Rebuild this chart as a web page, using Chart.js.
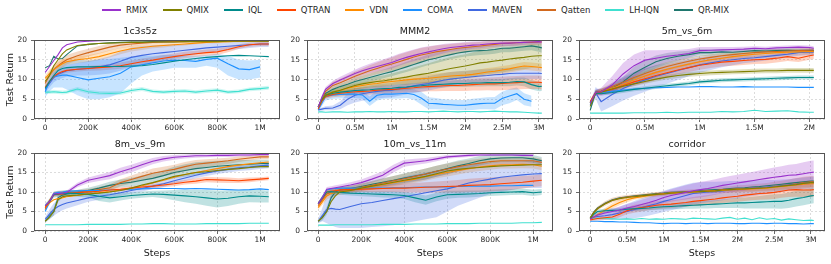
<!DOCTYPE html>
<html><head><meta charset="utf-8">
<script src="https://cdn.jsdelivr.net/npm/chart.js@4"></script>
<style>
html,body{margin:0;padding:0;background:#fff;}
#root{position:relative;width:831px;height:264px;overflow:hidden;font-family:'DejaVu Sans',sans-serif;}
#legend{position:absolute;left:0;top:3px;width:831px;height:13px;display:flex;justify-content:center;align-items:center;font-size:8.5px;color:#262626;white-space:nowrap;}
.li{display:flex;align-items:center;margin:0 7.5px;}
.sw{width:19px;height:2px;margin-right:5px;}
canvas{position:absolute;}
</style></head><body><div id="root"><div id="legend"></div></div>
<script>
// ---------- series ----------
const seriesNames = ['RMIX','QMIX','IQL','QTRAN','VDN','COMA','MAVEN','Qatten','LH-IQN','QR-MIX'];
const seriesColors = ['#9932CC','#808000','#008B8B','#FF4500','#FF8C00','#1E90FF','#4169E1','#D2691E','#40E0D0','#1F776E'];
const panelTitles = ['1c3s5z','MMM2','5m_vs_6m','8m_vs_9m','10m_vs_11m','corridor'];

// ---------- steps & ticks ----------
const steps1M = [0,20000,40000,60000,80000,100000,150000,200000,250000,300000,350000,400000,450000,500000,550000,600000,650000,700000,750000,800000,850000,900000,950000,1000000,1040000];
const steps3M = [0,50000,100000,200000,300000,400000,500000,600000,700000,800000,900000,1000000,1100000,1200000,1300000,1400000,1500000,1600000,1700000,1800000,1900000,2000000,2100000,2200000,2300000,2400000,2500000,2600000,2700000,2800000,2900000,3000000,3040000];
const steps2M = [0,50000,100000,200000,300000,400000,500000,600000,700000,800000,900000,1000000,1100000,1200000,1300000,1400000,1500000,1600000,1700000,1800000,1900000,2000000,2040000];
const xRange1M = [-52000,1092000], xRange3M = [-152000,3192000], xRange2M = [-102000,2142000];
const xTicks1M = [0,200000,400000,600000,800000,1000000];
const xLabels1M = ['0','200K','400K','600K','800K','1M'];
const xTicks3M = [0,500000,1000000,1500000,2000000,2500000,3000000];
const xLabels3M = ['0','0.5M','1M','1.5M','2M','2.5M','3M'];
const xTicks2M = [0,500000,1000000,1500000,2000000];
const xLabels2M = ['0','0.5M','1M','1.5M','2M'];
const yTicks = [0,5,10,15,20];

// ---------- 1c3s5z ----------
const c1_RMIX = [11.8,13.3,14.8,16.3,18,18.8,19.5,19.7,19.8,19.9,19.9,19.9,19.9,19.9,19.9,19.9,19.9,19.9,19.9,19.9,19.9,19.9,19.9,19.9,19.9];
const c1_QMIX = [9.5,11,13.5,15,16.5,17.5,18.6,18.9,19.1,19.2,19.3,19.4,19.4,19.5,19.5,19.5,19.6,19.6,19.6,19.6,19.7,19.7,19.7,19.7,19.7];
const c1_IQL = [7.8,9.5,11,12.3,12.8,13,13.2,13.2,13.3,13.3,13.3,13.4,13.5,13.8,14.2,14.6,15,15.3,15.6,15.8,16,16.1,16,15.9,15.8];
const c1_QTRAN = [8,9.5,10.8,11.5,12,12.3,12.6,12.8,13,13.2,13.5,14,14.5,14.9,15.4,15.8,16.2,16.5,16.8,17,17.6,18.3,18.8,19,19];
const c1_VDN = [10.3,11.5,12.5,13.3,14,14.5,15,15.3,15.8,16.5,17.2,17.8,18.1,18.4,18.6,18.8,19,19.2,19.4,19.5,19.6,19.7,19.7,19.8,19.8];
const c1_COMA = [6.9,9.5,10.7,10.9,11.1,11.1,10.5,9.9,10.3,10.7,11.6,13.2,13.7,14.2,14.7,14.9,14.8,14.6,15.1,15.4,14,12.7,12.5,13.2,null];
const c1_MAVEN = [7.5,9,10.5,11.3,11.8,12.2,12.6,12.8,13.2,13.7,14.6,15.6,16.1,16.5,16.8,17.1,17.4,17.7,18,18.2,18.4,18.6,18.8,19,19];
const c1_Qatten = [9,11,12.5,13.5,14.3,15,16,16.8,17.5,18.2,18.7,19,19.2,19.4,19.5,19.6,19.6,19.7,19.7,19.7,19.8,19.8,19.8,19.8,19.8];
const c1_LHIQN = [6.8,6.8,6.9,6.8,6.7,6.8,7.6,6.9,6.6,6.5,6.6,7.2,7.6,7,6.8,7,7.1,6.8,7.1,7.3,6.8,7,7.5,7.7,7.9];
const c1_QRMIX = [13,13.5,15.9,15.2,15.3,16.3,18.5,18.9,19.1,19.3,19.4,19.5,19.5,19.6,19.6,19.6,19.7,19.7,19.7,19.7,19.8,19.8,19.8,19.8,19.8];
const c1_COMA_lo = [5.5,7,8,8,8,7.5,6,5,5,5.5,6.5,9,11,12,12.5,13,13,13,13.5,13,11,10,10,10.5,null];
const c1_COMA_hi = [8,11.5,13,13.5,14,14.5,15,14.8,15,15.2,15.5,15.8,16,16,16.2,16.2,16,16,16.2,16.5,16,15,14.8,15,null];
const c1_MAVEN_sd = [0.8,1,1.2,1.3,1.4,1.5,1.6,1.8,2,2.2,2.4,2.5,2.4,2.2,2,1.8,1.6,1.4,1.2,1.1,1,0.9,0.8,0.8,0.8];
const c1_VDN_sd = [0.8,1,1,1,1,0.9,0.9,0.9,0.9,0.9,0.8,0.7,0.6,0.5,0.5,0.4,0.4,0.3,0.3,0.3,0.3,0.3,0.3,0.3,0.3];
const c1_Qatten_sd = [0.8,1,1.2,1.2,1.2,1.2,1.1,1,1,0.9,0.8,0.7,0.6,0.5,0.4,0.4,0.3,0.3,0.3,0.3,0.3,0.3,0.3,0.3,0.3];
const c1_QTRAN_sd = [0.5,0.6,0.6,0.6,0.6,0.6,0.6,0.6,0.7,0.7,0.8,0.8,0.8,0.8,0.8,0.8,0.8,0.8,0.8,0.8,0.7,0.6,0.5,0.5,0.5];
const c1_LHIQN_sd = [0.5,0.5,0.5,0.5,0.5,0.5,0.5,0.5,0.5,0.5,0.5,0.5,0.5,0.5,0.5,0.5,0.5,0.5,0.5,0.5,0.5,0.5,0.5,0.5,0.5];

// ---------- MMM2 ----------
const c2_RMIX = [3,5.5,7.5,9,9.9,10.7,11.5,12.2,12.8,13.3,13.8,14.3,15,15.6,16.1,16.6,17,17.4,17.8,18.1,18.3,18.5,18.7,18.8,19,19.1,19.2,19.2,19.3,19.4,19.5,19.6,19.5];
const c2_QMIX = [3,4.8,6,6.8,7.3,7.9,8.5,8.9,9.2,9.5,9.7,10,10.3,10.6,11,11.3,11.6,12,12.4,12.8,13.1,13.4,13.8,14.2,14.4,14.7,14.9,15.2,15.4,15.6,15.9,16,16];
const c2_IQL = [3,5,6,6.5,6.8,7,7.2,7.3,7.4,7.6,7.7,7.8,8,8.1,8.3,8.4,8.6,8.7,8.8,8.9,9,9,9.1,9.1,9.2,9.2,9.2,9.3,9.5,9.4,8.7,8.2,8.3];
const c2_QTRAN = [2.5,4.5,5.7,6.2,6.5,6.7,6.9,7,7.1,7.3,7.4,7.5,7.6,7.8,7.9,8.1,8.2,8.3,8.4,8.5,8.5,8.6,8.7,8.8,8.9,8.9,9,9.1,9.2,9.3,9.3,9.3,9.2];
const c2_VDN = [3,5,6,6.8,7.3,7.8,8.2,8.5,8.8,9,9.3,9.5,9.7,9.9,10.1,10.2,10.3,10.5,10.7,10.9,11,11.1,11.3,11.6,11.9,12.1,12.4,12.7,13.1,13.4,13.3,13.1,13];
const c2_COMA = [2.3,4,5.7,6.1,6.2,6.3,6.3,6.1,4.5,6,6.3,6.3,6.4,6.5,6.2,5.3,4,3.9,3.7,3.6,3.5,3.5,3.7,3.9,4,4,5.2,5.8,6.4,5,4.5,null,null];
const c2_MAVEN = [2.3,2.5,2.7,2.8,3.5,5,6,6.4,6.7,7,7.2,7.3,7.7,8,8.4,8.7,9,9.4,9.8,10.1,10.3,10.5,10.7,10.9,11,11.2,11.3,11.5,11.6,11.6,11.6,11.6,11.5];
const c2_Qatten = [3,5,7,8.5,9.2,10,10.8,11.5,12.2,12.8,13.4,13.9,14.5,15.1,15.7,16.2,16.6,17,17.3,17.6,17.9,18.1,18.3,18.5,18.7,18.9,19.1,19.2,19.3,19.4,19.4,19.5,19.5];
const c2_LHIQN = [1.8,1.8,1.7,1.8,1.8,1.7,1.8,1.8,1.9,1.8,1.8,1.9,1.8,1.8,1.9,1.9,1.8,1.9,2,1.9,1.8,1.9,1.9,1.8,1.9,2,1.9,1.8,1.8,1.7,1.6,1.5,1.5];
const c2_QRMIX = [3,5,6.5,7.5,8.2,8.8,9.5,10,10.5,11,11.5,12,12.6,13.2,13.8,14.4,15,15.4,15.9,16.3,16.7,17,17.2,17.3,17.4,17.6,17.9,17.9,18.1,18.3,18.5,18.2,18];
const c2_RMIX_sd = [0.3,0.5,0.6,0.7,0.8,0.9,1,1.1,1.2,1.3,1.4,1.5,1.5,1.5,1.5,1.5,1.4,1.3,1.2,1.1,1,1,0.9,0.9,0.8,0.8,0.7,0.7,0.7,0.6,0.6,0.6,0.6];
const c2_Qatten_sd = [0.3,0.5,0.7,0.9,1,1.1,1.2,1.3,1.4,1.5,1.6,1.7,1.8,1.8,1.8,1.8,1.7,1.6,1.5,1.4,1.3,1.2,1.1,1,1,0.9,0.9,0.8,0.8,0.8,0.7,0.7,0.7];
const c2_QRMIX_sd = [0.3,0.5,0.6,0.7,0.8,0.9,1,1,1,1.1,1.1,1.2,1.2,1.3,1.3,1.3,1.3,1.3,1.3,1.2,1.2,1.2,1.2,1.1,1.1,1.1,1,1,1,1,1.1,1.2,1.2];
const c2_QMIX_sd = [0.3,0.5,0.6,0.7,0.8,0.9,1,1.1,1.2,1.3,1.4,1.5,1.7,1.9,2.1,2.3,2.5,2.7,2.8,2.9,3,3,3.1,3.1,3.1,3.1,3.1,3.1,3,3,3,2.9,2.9];
const c2_VDN_sd = [0.3,0.5,0.6,0.7,0.7,0.8,0.8,0.8,0.8,0.9,0.9,0.9,0.9,1,1,1,1,1,1,1,1,1,1,1,1,1,1,1,1,1,1,1,1];
const c2_MAVEN_sd = [0.3,0.4,0.5,0.6,1,1.5,1.8,1.8,1.8,1.8,1.8,1.8,1.8,1.8,1.8,1.8,1.8,1.8,1.8,1.8,1.8,1.7,1.7,1.7,1.6,1.6,1.6,1.5,1.5,1.5,1.5,1.5,1.5];
const c2_QTRAN_sd = [0.3,0.5,0.6,0.7,0.8,0.8,0.9,0.9,0.9,1,1,1,1,1.1,1.1,1.2,1.2,1.3,1.3,1.4,1.4,1.5,1.5,1.6,1.6,1.7,1.7,1.7,1.7,1.7,1.7,1.7,1.7];
const c2_IQL_sd = [0.3,0.5,0.6,0.7,0.7,0.7,0.7,0.7,0.8,0.8,0.8,0.8,0.8,0.8,0.8,0.8,0.8,0.8,0.8,0.8,0.9,0.9,0.9,0.9,0.9,0.9,0.9,1,1,1.1,1.2,1.2,1.2];
const c2_COMA_sd = [0.3,0.8,1,1,1,1,1,1,1.2,1.3,1.2,1.2,1.2,1.2,1.3,1.6,1.5,1.4,1.3,1.3,1.3,1.3,1.4,1.4,1.5,1.6,1.7,1.8,1.6,1.5,1.4,null,null];

// ---------- 5m_vs_6m ----------
const c3_RMIX = [4,6.7,6.9,8.6,11.4,13.5,14.9,15.4,15.9,16.2,16.6,17.3,17.4,17.5,17.6,17.7,17.9,17.8,18,18.1,18.2,18.1,17.9];
const c3_QMIX = [3.2,6.6,6.8,7.6,8.3,8.9,9.5,10.1,10.6,11,11.3,11.5,11.7,11.8,11.9,12,12.1,12.2,12.2,12.3,12.3,12.3,12.3];
const c3_IQL = [4,6.5,6.4,6.7,7.1,7.5,7.8,8.1,8.4,8.7,9,9.4,9.6,9.8,9.9,10,10.1,10.2,10.3,10.4,10.5,10.5,10.5];
const c3_QTRAN = [4.4,6.7,6.9,7.5,8.4,9.4,10.2,11,11.7,12.4,13,13.6,14,14.4,14.6,14.8,15,15.1,15.4,15.8,15.4,16,16.2];
const c3_VDN = [4.2,6.6,6.9,7.8,8.8,9.9,10.9,11.8,12.6,13.3,13.9,14.5,15,15.4,15.8,16.1,16.4,16.6,16.8,16.9,17,17.1,17.1];
const c3_COMA = [4.1,6.5,6.7,7,7.3,7.6,7.8,7.9,8,8.1,8.1,8.2,8.2,8.1,8.1,8.2,8.1,8.1,8.1,8.1,8,8,8];
const c3_MAVEN = [3.5,6.6,4.4,6.2,7.7,8.9,9.9,10.8,11.5,12.3,13,13.7,14.2,14.7,15,15.3,15.5,15.8,16.1,16.4,16.8,17,17];
const c3_Qatten = [4,6.6,7,8.2,9.3,10.5,11.5,12.5,13.3,14,14.6,15.2,15.6,16,16.3,16.6,16.8,17,17.1,17.2,17.3,17.4,17.4];
const c3_LHIQN = [1.5,1.5,1.5,1.5,1.5,1.6,1.6,1.6,1.7,1.6,1.7,1.7,1.7,1.9,1.8,1.9,2.2,1.9,2,2.1,1.8,1.7,1.7];
const c3_QRMIX = [2.2,6.8,7,7.7,9.4,11.6,13.1,14.5,15.3,15.9,16.3,16.8,16.8,17,16.9,17.1,17.3,17.2,17.3,17.4,17.3,17.3,17.3];
const c3_RMIX_sd = [0.5,0.8,1,2.2,2.8,2.8,2.5,2,1.6,1.3,1.1,0.9,0.8,0.7,0.6,0.6,0.5,0.5,0.5,0.5,0.5,0.5,0.5];
const c3_QRMIX_sd = [0.5,0.6,0.7,0.9,1.3,1.6,1.7,1.6,1.4,1.2,1,0.9,0.8,0.7,0.6,0.6,0.5,0.5,0.5,0.5,0.5,0.5,0.5];
const c3_MAVEN_sd = [0.8,1.5,2.5,3,3,3,3,2.8,2.6,2.4,2.2,2,1.8,1.6,1.4,1.2,1.1,1,0.9,0.8,0.8,0.8,0.8];
const c3_QTRAN_sd = [0.5,0.6,0.7,0.8,0.9,1,1.1,1.1,1.1,1.1,1.1,1.1,1.1,1.1,1.1,1.1,1.1,1.1,1.1,1.1,1,1,1];
const c3_VDN_sd = [0.5,0.6,0.7,0.9,1,1.1,1.2,1.2,1.2,1.1,1,0.9,0.9,0.8,0.8,0.7,0.7,0.7,0.7,0.7,0.7,0.7,0.7];
const c3_Qatten_sd = [0.5,0.6,0.7,0.9,1,1.1,1.2,1.2,1.1,1,0.9,0.8,0.8,0.7,0.7,0.7,0.6,0.6,0.6,0.6,0.6,0.6,0.6];
const c3_QMIX_sd = [0.3,0.4,0.5,0.5,0.5,0.6,0.6,0.6,0.6,0.6,0.6,0.6,0.6,0.6,0.6,0.6,0.6,0.6,0.6,0.6,0.6,0.6,0.6];
const c3_IQL_sd = [0.3,0.4,0.4,0.5,0.5,0.5,0.5,0.5,0.5,0.5,0.5,0.5,0.5,0.5,0.5,0.5,0.5,0.5,0.5,0.5,0.5,0.5,0.5];

// ---------- 8m_vs_9m ----------
const c4_RMIX = [6.5,7.5,9.5,9.6,9.7,9.9,11.8,13,13.6,14.2,15.2,16,17,17.9,18.5,18.9,19.1,19.3,19.3,19.4,19.4,19.5,19.5,19.6,19.6];
const c4_QMIX = [2.5,3.5,5,8,8.8,9,9.2,9.5,9.7,10,10.4,11,11.8,12.4,13.2,14,14.5,15,15.2,15.5,15.8,16,16.3,16.5,16.5];
const c4_IQL = [6.5,7.5,9.3,9.5,9.6,9.7,9.6,9.4,8.9,8.5,8.8,9.1,9.3,9.5,9.4,9.2,9,8.8,8.5,8.2,8.4,8.8,9,8.9,8.8];
const c4_QTRAN = [6,7.5,9.3,9.4,9.5,9.6,9.8,10,10.2,10.5,10.7,11,11.3,11.5,11.8,12.1,12.5,12.8,13.2,13.1,13,12.9,13.1,13.3,13.5];
const c4_VDN = [6,7.2,8,8.3,8.5,8.8,9.1,9.5,9.8,10.1,10.5,11,11.6,12.3,13,13.8,14.5,15,15.5,16,16.5,16.9,17.2,17.5,17.7];
const c4_COMA = [5,7.3,9.6,9.9,10,10.2,10.3,10.4,10.4,10.5,10.6,10.7,10.8,10.9,10.9,10.9,10.8,10.9,10.8,10.7,10.6,10.5,10.6,10.8,10.6];
const c4_MAVEN = [3,4.3,5.5,6.3,6.8,7.2,7.8,8.5,8.9,9.3,9.8,10.4,10.9,11.5,12.1,12.9,13.6,14.3,14.9,15.4,15.8,16.2,16.4,16.7,16.9];
const c4_Qatten = [5.5,7.8,9.5,9.7,9.8,9.9,10,10.2,10.6,11.1,12.4,13.2,14,14.8,15.3,15.8,16.5,17.1,17.4,17.7,18,18.4,18.7,19,19];
const c4_LHIQN = [1.6,1.6,1.6,1.6,1.6,1.6,1.6,1.7,1.7,1.7,1.7,1.8,1.8,1.9,1.9,1.8,1.8,1.8,1.9,1.9,1.9,1.9,2,2,2];
const c4_QRMIX = [2.5,3.8,5,8.5,9.2,9.5,9.9,10.4,11,11.7,12.2,12.5,13,13.5,14.2,15,15.5,16,16.3,16.6,16.8,17,17.1,17.3,17.3];
const c4_RMIX_sd = [0.4,0.5,0.5,0.5,0.5,0.5,0.6,0.7,0.8,0.9,1,1,0.9,0.8,0.7,0.6,0.5,0.5,0.4,0.4,0.4,0.4,0.4,0.4,0.4];
const c4_IQL_sd = [0.5,0.8,0.8,0.8,0.8,0.8,0.8,0.8,1.2,1.2,1,0.8,0.8,0.8,1,1.3,1.6,1.8,2,2.2,2,1.8,1.6,1.6,1.5];
const c4_QRMIX_sd = [0.4,0.8,1,1,0.8,0.7,0.7,0.7,0.8,0.9,1,1.1,1.2,1.3,1.4,1.5,1.6,1.6,1.5,1.4,1.3,1.2,1.1,1,1];
const c4_MAVEN_sd = [0.6,1.2,1.6,1.6,1.5,1.4,1.2,1,0.9,0.8,0.8,0.8,0.8,0.8,0.8,0.8,0.8,0.8,0.8,0.8,0.8,0.8,0.8,0.8,0.8];
const c4_QTRAN_sd = [0.4,0.5,0.5,0.5,0.5,0.5,0.5,0.5,0.5,0.5,0.5,0.5,0.5,0.5,0.6,0.6,0.6,0.7,0.7,0.7,0.7,0.6,0.6,0.5,0.5];
const c4_Qatten_sd = [0.4,0.5,0.5,0.5,0.5,0.5,0.5,0.6,0.7,0.8,0.9,1,1.1,1.2,1.2,1.2,1.2,1.1,1,0.9,0.8,0.7,0.6,0.6,0.6];

// ---------- 10m_vs_11m ----------
const c5_RMIX = [7,8.6,10.7,10.9,11.1,11.3,11.8,12.4,13.3,14.3,16,17.4,17.7,18,18.5,19,19.2,19.4,19.5,19.5,19.5,19.5,19.4,19.4,null];
const c5_QMIX = [2.5,3.5,5,7.5,9,10,10.4,11,11.5,12,12.5,13,13.5,14,14.7,15.4,15.8,16.1,16.3,16.5,16.7,16.8,16.9,17,17];
const c5_IQL = [7,8.5,10,10.1,10,9.9,9.7,9.6,9.5,9.4,9.3,9.1,8.5,7.9,8.7,9.3,9.4,9.5,9.6,9.8,9.9,10,10.1,9.8,10];
const c5_QTRAN = [7,8.5,10,10.2,10.3,10.5,10.6,10.7,10.8,10.9,11,11,11.1,11.2,11.3,11.4,11.5,11.7,11.8,11.9,12.1,12.3,12.5,12.8,13];
const c5_VDN = [6,7.5,9,9.6,9.8,10,10.4,10.9,11.4,11.9,12.4,12.8,13.3,13.9,14.5,15,15.5,16,16.4,16.7,17,17,17.1,17,16.6];
const c5_COMA = [7,8.8,10.5,10.8,10.9,11,11,11,11,11,11.1,11.1,11.2,11.3,11.3,11.3,11.4,11.5,11.5,11.5,11.6,11.6,11.7,11.7,null];
const c5_MAVEN = [2.5,4,5.5,5.8,5.6,5.5,6.3,7,7.3,7.8,8.3,8.8,9.3,9.8,10.3,10.8,11.5,12.3,12.8,13.3,13.8,14.1,14.4,14.6,14.7];
const c5_Qatten = [6.5,8,9.5,10,10.3,10.5,10.8,11.2,11.7,12.3,12.9,13.4,14,14.6,15.3,15.9,16.5,17,17.4,17.8,18,18,18,18,17.6];
const c5_LHIQN = [1.5,1.5,1.5,1.5,1.6,1.6,1.6,1.6,1.6,1.7,1.7,1.7,1.8,1.8,1.8,1.9,1.9,1.9,2,2,2,2,2.1,2.1,2.2];
const c5_QRMIX = [2.5,3.5,5.2,8.5,10,10.5,10.9,11.4,12,12.5,13,13.6,14.1,14.6,15.3,16,16.7,17.3,18,18.5,18.7,18.8,18.8,18.5,18];
const c5_MAVEN_lo = [2,2.5,2,1.5,1,0.8,0.8,0.8,1,1.2,1.5,2,2.5,3,3.5,5,6.5,7.5,8.5,9.5,10,10.5,11,11,11];
const c5_MAVEN_hi = [3,6,9.5,10.5,10.5,10.5,11,11.5,12,12.5,13,14,14.5,15,15.5,16,16.5,17,17.3,17.5,17.8,18,18,18.2,18.3];
const c5_QRMIX_sd = [0.4,0.8,1,1,0.8,0.7,0.7,0.8,0.9,1,1.1,1.2,1.3,1.4,1.4,1.4,1.4,1.3,1.2,1.1,1,1,1,1,1];
const c5_Qatten_sd = [0.5,0.6,0.7,0.7,0.7,0.7,0.8,0.9,1,1.1,1.2,1.3,1.4,1.4,1.4,1.4,1.3,1.2,1.1,1,0.9,0.9,0.9,0.9,0.9];
const c5_QTRAN_sd = [0.5,0.6,0.6,0.6,0.6,0.6,0.6,0.7,0.8,0.9,1,1.1,1.2,1.3,1.4,1.5,1.6,1.7,1.8,1.8,1.8,1.7,1.6,1.5,1.5];
const c5_IQL_sd = [0.5,0.6,0.6,0.6,0.6,0.6,0.6,0.7,0.7,0.8,0.8,0.9,1.1,1.2,1.1,1,0.9,0.9,0.8,0.8,0.8,0.8,0.8,0.8,0.8];
const c5_RMIX_sd = [0.4,0.5,0.6,0.6,0.6,0.6,0.7,0.8,0.9,1,1,0.9,0.8,0.7,0.6,0.5,0.4,0.4,0.3,0.3,0.3,0.3,0.3,0.3,null];
const c5_VDN_sd = [0.6,0.8,1,0.9,0.8,0.7,0.7,0.7,0.8,0.8,0.9,0.9,1,1,1,1,1,1,1,1,1,1,1,1,1];

// ---------- corridor ----------
const c6_RMIX = [3,3.6,4.1,4.6,5,5.4,5.9,6.3,6.8,7.3,7.9,8.6,9.1,9.5,9.9,10.3,10.6,10.9,11.3,11.7,12,12.3,12.6,12.9,13.2,13.5,13.8,14,14.3,14.4,14.7,15,15.1];
const c6_QMIX = [3.2,4.7,5.7,6.9,7.8,8.3,8.6,8.8,9,9.2,9.4,9.5,9.7,9.8,9.9,10,10.1,10.2,10.3,10.5,10.6,10.7,10.8,10.9,11,11.1,11.3,11.5,11.7,11.9,12.2,12.4,12.4];
const c6_IQL = [3.2,4.3,5,5.2,5.3,5.4,5.6,5.7,5.8,5.9,6.1,6.2,6.3,6.4,6.5,6.6,6.7,6.8,6.9,7,7.1,7.2,7.2,7.3,7.4,7.5,7.6,7.6,7.9,8.3,8.6,9,9.1];
const c6_QTRAN = [2.8,3,3.2,3.4,3.6,4.3,5.2,5.7,6,6.3,6.6,6.8,6.9,7.1,7.3,7.6,7.8,8,8.2,8.5,8.7,8.9,9.2,9.4,9.6,9.7,9.9,10.2,10.5,10.6,10.5,10.5,10.6];
const c6_VDN = [3,3.6,4.2,5.3,6.4,7.3,8,8.5,8.8,9.1,9.3,9.5,9.7,9.8,9.9,10,10.1,10.2,10.3,10.4,10.5,10.6,10.7,10.8,10.9,11,11.2,11.4,11.6,11.8,12,12.1,12.1];
const c6_COMA = [2.5,2.5,2.5,2.4,2.4,2.3,2.3,2.2,2.1,2.1,2,1.9,2,2,1.9,2,2,1.9,2,2,2,1.9,1.9,2,2,1.9,2,2,1.9,1.9,1.8,1.9,1.9];
const c6_MAVEN = [3.5,3.6,3.7,3.9,4.2,4.6,5,5.5,6,6.5,7,7.6,8.1,8.6,9.1,9.6,9.8,10,10.1,10.3,10.5,10.6,10.8,11,11.1,11.3,11.4,11.6,11.8,12,12.2,12.4,12.4];
const c6_Qatten = [3.3,4.8,5.8,7,7.9,8.4,8.7,8.9,9.1,9.3,9.5,9.6,9.8,9.9,10,10.1,10.2,10.3,10.4,10.6,10.7,10.8,10.9,11,11.1,11.2,11.4,11.6,11.8,12.1,12.4,12.6,12.6];
const c6_LHIQN = [3.2,3.2,3.3,3.2,3.1,3,3.1,3,3.2,3,3.1,3,3.2,3.1,3,3.3,3.2,3.1,3,3.3,3.5,3,3.3,2.9,3.4,3,3.2,2.8,3.1,2.9,2.7,2.8,2.7];
const c6_QRMIX = [3.4,4.9,5.9,7.1,8,8.5,8.8,9,9.2,9.4,9.6,9.7,9.9,10,10.1,10.2,10.4,10.5,10.6,10.7,10.9,11,11.1,11.3,11.4,11.6,11.8,12,12.2,12.4,12.6,12.8,12.8];
const c6_RMIX_sd = [0.3,0.5,0.6,0.7,0.8,0.9,1,1.1,1.2,1.3,1.4,1.5,1.6,1.7,1.8,1.9,2,2,2,2,2.1,2.1,2.2,2.2,2.3,2.4,2.5,2.6,2.7,2.8,2.9,3,3];
const c6_MAVEN_sd = [0.3,0.5,0.8,1,1.3,1.6,1.9,2.2,2.4,2.5,2.6,2.7,2.8,2.8,2.8,2.8,2.7,2.6,2.5,2.4,2.3,2.2,2.1,2,1.9,1.8,1.7,1.6,1.5,1.5,1.5,1.5,1.5];
const c6_QTRAN_sd = [0.3,0.4,0.5,0.6,0.7,0.8,0.9,1,1,1,1,1,1,1,1.1,1.1,1.2,1.2,1.3,1.3,1.4,1.4,1.5,1.5,1.6,1.6,1.7,1.7,1.8,1.8,1.8,1.8,1.8];
const c6_IQL_sd = [0.3,0.4,0.5,0.5,0.5,0.5,0.5,0.6,0.6,0.6,0.7,0.7,0.7,0.8,0.8,0.9,0.9,1,1,1.1,1.2,1.3,1.4,1.5,1.6,1.7,1.8,1.9,2,2,2,2,2];
const c6_VDN_sd = [0.3,0.4,0.5,0.6,0.7,0.7,0.6,0.5,0.5,0.5,0.5,0.5,0.5,0.5,0.5,0.5,0.5,0.5,0.5,0.5,0.5,0.5,0.5,0.6,0.6,0.6,0.7,0.7,0.8,0.8,0.8,0.8,0.8];
const c6_Qatten_sd = [0.3,0.4,0.5,0.6,0.6,0.6,0.5,0.5,0.5,0.5,0.5,0.5,0.5,0.5,0.6,0.6,0.6,0.7,0.7,0.8,0.8,0.9,0.9,1,1,1.1,1.2,1.3,1.4,1.5,1.5,1.5,1.5];

// ---------- panel table (built from the arrays above) ----------
const panels = [
  {steps:steps1M, xr:xRange1M, xt:xTicks1M, xl:xLabels1M,
   series:[c1_RMIX,c1_QMIX,c1_IQL,c1_QTRAN,c1_VDN,c1_COMA,c1_MAVEN,c1_Qatten,c1_LHIQN,c1_QRMIX],
   bands:[['COMA',c1_COMA_lo,c1_COMA_hi],['MAVEN',c1_MAVEN_sd],['VDN',c1_VDN_sd],['Qatten',c1_Qatten_sd],['QTRAN',c1_QTRAN_sd],['LH-IQN',c1_LHIQN_sd]]},
  {steps:steps3M, xr:xRange3M, xt:xTicks3M, xl:xLabels3M,
   series:[c2_RMIX,c2_QMIX,c2_IQL,c2_QTRAN,c2_VDN,c2_COMA,c2_MAVEN,c2_Qatten,c2_LHIQN,c2_QRMIX],
   bands:[['RMIX',c2_RMIX_sd],['Qatten',c2_Qatten_sd],['QR-MIX',c2_QRMIX_sd],['QMIX',c2_QMIX_sd],['VDN',c2_VDN_sd],['MAVEN',c2_MAVEN_sd],['QTRAN',c2_QTRAN_sd],['IQL',c2_IQL_sd],['COMA',c2_COMA_sd]]},
  {steps:steps2M, xr:xRange2M, xt:xTicks2M, xl:xLabels2M,
   series:[c3_RMIX,c3_QMIX,c3_IQL,c3_QTRAN,c3_VDN,c3_COMA,c3_MAVEN,c3_Qatten,c3_LHIQN,c3_QRMIX],
   bands:[['RMIX',c3_RMIX_sd],['QR-MIX',c3_QRMIX_sd],['MAVEN',c3_MAVEN_sd],['QTRAN',c3_QTRAN_sd],['VDN',c3_VDN_sd],['Qatten',c3_Qatten_sd],['QMIX',c3_QMIX_sd],['IQL',c3_IQL_sd]]},
  {steps:steps1M, xr:xRange1M, xt:xTicks1M, xl:xLabels1M,
   series:[c4_RMIX,c4_QMIX,c4_IQL,c4_QTRAN,c4_VDN,c4_COMA,c4_MAVEN,c4_Qatten,c4_LHIQN,c4_QRMIX],
   bands:[['RMIX',c4_RMIX_sd],['IQL',c4_IQL_sd],['QR-MIX',c4_QRMIX_sd],['MAVEN',c4_MAVEN_sd],['QTRAN',c4_QTRAN_sd],['Qatten',c4_Qatten_sd]]},
  {steps:steps1M, xr:xRange1M, xt:xTicks1M, xl:xLabels1M,
   series:[c5_RMIX,c5_QMIX,c5_IQL,c5_QTRAN,c5_VDN,c5_COMA,c5_MAVEN,c5_Qatten,c5_LHIQN,c5_QRMIX],
   bands:[['MAVEN',c5_MAVEN_lo,c5_MAVEN_hi],['QR-MIX',c5_QRMIX_sd],['Qatten',c5_Qatten_sd],['QTRAN',c5_QTRAN_sd],['IQL',c5_IQL_sd],['RMIX',c5_RMIX_sd],['VDN',c5_VDN_sd]]},
  {steps:steps3M, xr:xRange3M, xt:xTicks3M, xl:xLabels3M,
   series:[c6_RMIX,c6_QMIX,c6_IQL,c6_QTRAN,c6_VDN,c6_COMA,c6_MAVEN,c6_Qatten,c6_LHIQN,c6_QRMIX],
   bands:[['RMIX',c6_RMIX_sd],['MAVEN',c6_MAVEN_sd],['QTRAN',c6_QTRAN_sd],['IQL',c6_IQL_sd],['VDN',c6_VDN_sd],['Qatten',c6_Qatten_sd]]}
];

// ---------- layout ----------
const colPlotLeft = [34,307,579], colAxisW = [34,30,30];
const rowPlotTop = [40,153], rowPlotH = [79,78], rowAxisH = [16,30];
const PLOT_W = 246, TITLE_H = 14, PAD_R = 6;

Chart.defaults.font.family = "'DejaVu Sans', sans-serif";
Chart.defaults.color = '#262626';

// legend
const lg = document.getElementById('legend');
seriesNames.forEach((n,i)=>{
  const it = document.createElement('div'); it.className='li';
  const sw = document.createElement('span'); sw.className='sw'; sw.style.background = seriesColors[i];
  const tx = document.createElement('span'); tx.textContent = n;
  it.appendChild(sw); it.appendChild(tx); lg.appendChild(it);
});

const framePlugin = {id:'frame', afterDatasetsDraw(chart){
  const {ctx, chartArea:a} = chart;
  ctx.save(); ctx.strokeStyle='#555'; ctx.lineWidth=1;
  ctx.strokeRect(Math.round(a.left)+0.5, Math.round(a.top)+0.5, Math.round(a.right-a.left)-1, Math.round(a.bottom-a.top)-1);
  ctx.restore();
}};

function toPts(steps, arr){ return steps.map((x,i)=>({x:x, y:(arr[i]==null?null:arr[i])})); }

panels.forEach((p,pi)=>{
  const col = pi%3, row = Math.floor(pi/3);
  const yW = colAxisW[col], xH = rowAxisH[row];
  const cv = document.createElement('canvas');
  const W = yW + PLOT_W + PAD_R, H = TITLE_H + rowPlotH[row] + xH;
  cv.width = W; cv.height = H;
  cv.style.left = (colPlotLeft[col]-yW)+'px';
  cv.style.top = (rowPlotTop[row]-TITLE_H)+'px';
  cv.style.width = W+'px'; cv.style.height = H+'px';
  document.getElementById('root').appendChild(cv);

  const datasets = [];
  p.series.forEach((arr,si)=>{
    datasets.push({label:seriesNames[si], data:toPts(p.steps,arr), borderColor:seriesColors[si],
      borderWidth:1.1, pointRadius:0, fill:false, tension:0, spanGaps:false});
  });
  p.bands.forEach(b=>{
    const si = seriesNames.indexOf(b[0]); const mean = p.series[si];
    let lo, hi;
    if (b.length===3){ lo=b[1]; hi=b[2]; }
    else { const sd=b[1];
      lo = mean.map((m,i)=> (m==null||sd[i]==null)?null:m-sd[i]);
      hi = mean.map((m,i)=> (m==null||sd[i]==null)?null:m+sd[i]); }
    datasets.push({label:b[0]+' hi', data:toPts(p.steps,hi), borderColor:'transparent', borderWidth:0, pointRadius:0, fill:false});
    datasets.push({label:b[0]+' lo', data:toPts(p.steps,lo), borderColor:'transparent', borderWidth:0, pointRadius:0,
      fill:'-1', backgroundColor:seriesColors[si]+'3F'});
  });

  new Chart(cv, {
    type:'line',
    data:{datasets},
    options:{
      responsive:false, animation:false, devicePixelRatio:1,
      layout:{padding:{left:0,right:PAD_R,top:0,bottom:0}},
      events:[],
      plugins:{
        legend:{display:false}, tooltip:{enabled:false},
        filler:{drawTime:'beforeDatasetsDraw'},
        title:{display:true, text:panelTitles[pi], color:'#1a1a1a', font:{size:9.5, weight:'normal'}, padding:{top:0,bottom:2.6}}
      },
      scales:{
        x:{type:'linear', min:p.xr[0], max:p.xr[1],
          afterBuildTicks:s=>{ s.ticks = p.xt.map(v=>({value:v})); },
          afterFit:s=>{ s.height = xH; },
          ticks:{autoSkip:false, maxRotation:0, minRotation:0, padding:2, color:'#262626', font:{size:7.5},
                 callback:(v)=>{ const k=p.xt.indexOf(v); return k<0?'':p.xl[k]; }},
          grid:{color:'#d3d3d3', lineWidth:0.8, drawTicks:true, tickLength:3, tickColor:'#444', tickWidth:0.8},
          border:{display:false, dash:[2,2]},
          title:{display:row===1, text:'Steps', color:'#1a1a1a', font:{size:9.5}, padding:{top:0,bottom:2}}
        },
        y:{type:'linear', min:0, max:20,
          afterBuildTicks:s=>{ s.ticks = yTicks.map(v=>({value:v})); },
          afterFit:s=>{ s.width = yW; },
          ticks:{padding:4, color:'#262626', font:{size:7.5}},
          grid:{color:'#d3d3d3', lineWidth:0.8, drawTicks:true, tickLength:3, tickColor:'#444', tickWidth:0.8},
          border:{display:false, dash:[2,2]},
          title:{display:col===0, text:'Test Return', color:'#1a1a1a', font:{size:9.5}, padding:{top:5,bottom:0}}
        }
      }
    },
    plugins:[framePlugin]
  });
});
</script>
</body></html>
